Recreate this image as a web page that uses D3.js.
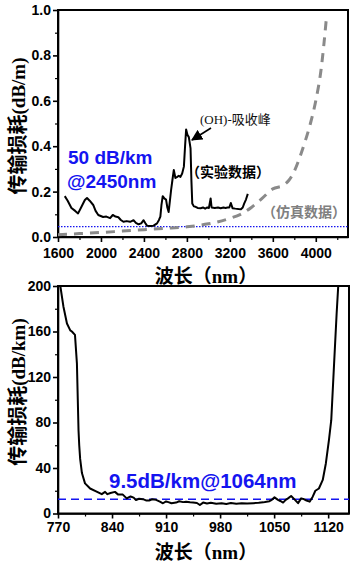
<!DOCTYPE html>
<html>
<head>
<meta charset="utf-8">
<script src="https://cdn.jsdelivr.net/npm/d3@7"></script>
<style>
  body { margin: 0; background: #fff; }
  svg { display: block; }
  .tick text { font-family: "Liberation Sans", Arial, sans-serif; font-weight: bold; font-size: 14px; fill: #000; }
  .axis path, .axis line { stroke: #000; stroke-width: 1.6px; }
  .minor path { display: none; }
  .minor line { stroke: #000; stroke-width: 1.2px; }
  .cjk { font-family: "Noto Sans CJK SC", sans-serif; font-weight: bold; }
  .lat { font-family: "Liberation Serif", serif; font-weight: bold; }
</style>
</head>
<body>
<div id="chart"></div>
<script>
// top panel: measured loss (dB/m) and simulated loss
var expWave = [1663,1690,1725,1760,1787,1815,1850,1870,1895,1928,1950,1975,2020,2050,2085,2110,2135,2162,2185,2209,2240,2272,2303,2325,2350,2375,2397,2412,2428,2460,2490,2522,2540,2553,2563,2575,2590,2606,2618,2630,2642,2653,2665,2678,2693,2710,2725,2740,2756,2772,2783,2793,2805,2818,2834,2842,2850,2865,2881,2900,2928,2950,2970,2990,3005,3021,3030,3060,3090,3115,3140,3160,3178,3195,3209,3225,3250,3280,3303,3320,3334,3350,3367];
var expLoss = [0.18,0.16,0.128,0.115,0.104,0.13,0.163,0.172,0.16,0.141,0.115,0.097,0.088,0.09,0.083,0.097,0.09,0.087,0.075,0.067,0.07,0.067,0.074,0.062,0.056,0.06,0.074,0.062,0.05,0.048,0.05,0.06,0.075,0.09,0.14,0.18,0.17,0.165,0.13,0.11,0.16,0.207,0.25,0.295,0.26,0.265,0.27,0.265,0.28,0.31,0.4,0.474,0.45,0.44,0.39,0.25,0.148,0.135,0.133,0.128,0.127,0.13,0.125,0.13,0.128,0.17,0.13,0.128,0.13,0.127,0.13,0.128,0.13,0.13,0.15,0.127,0.125,0.123,0.122,0.13,0.148,0.165,0.19];

var simWave = [1600,1800,2000,2200,2400,2600,2800,3000,3200,3300,3400,3500,3600,3700,3750,3800,3850,3900,3950,4000,4050,4100];
var simLoss = [0.01,0.015,0.02,0.026,0.032,0.038,0.045,0.058,0.082,0.1,0.13,0.17,0.212,0.228,0.25,0.29,0.35,0.42,0.5,0.6,0.74,0.97];

var topRef = 0.046;           // 50 dB/km
var topXTicks = [1600,2000,2400,2800,3200,3600,4000];
var topXMinor = [1800,2200,2600,3000,3400,3800,4200];
var topYTicks = [0,0.2,0.4,0.6,0.8,1.0];
var topYMinor = [0.1,0.3,0.5,0.7,0.9];

// bottom panel: loss (dB/km) 770-1145 nm
var botWave = [773,777,781.6,785.9,788,792,794.5,796.6,797.5,798.7,801,805,811.6,820,826.7,831,834,838,843.8,848,854,859,864,868,871,875,880,884,888,892,897,902,906,910,913,917,923,927,932,936,941,945,950,953.8,958,963,968,975,982,988,994,1001,1008,1015,1023,1030,1036,1040,1044,1047,1050.5,1055,1058,1061.6,1065,1068,1072,1077,1081,1085,1089,1092,1096,1100,1103.4,1108,1113,1117,1121,1124,1127.7,1131,1133];
var botLoss = [200,182,167,161,160,157,132,73,60,48,35.6,26.5,22,19.3,17,19,17,18,19,16.6,16.6,13.3,15,14,11.9,13,12.6,11.5,11.4,12.5,12,10.5,9,10.6,10,9,9.6,10.8,10,10.4,9.8,9.6,9.2,7.5,9.6,8.8,9.4,8.6,9,8.4,9.2,8.6,9,8.8,9.1,9.4,9.8,10.4,10.8,12,14.2,12,11,9.6,12,13.3,15.4,12,9.1,13.3,12.5,11.4,10.4,14.8,20,22,29.5,44,64.6,82,132,176,199.5];

var botRef = 12.5;
var botXTicks = [770,840,910,980,1050,1120];
var botXMinor = [805,875,945,1015,1085];
var botYTicks = [0,40,80,120,160,200];
var botYMinor = [20,60,100,140,180];

var svg = d3.select("#chart").append("svg")
    .attr("width", 354)
    .attr("height", 564);

svg.append("defs").append("marker")
    .attr("id", "arr")
    .attr("viewBox", "0 0 10 10")
    .attr("refX", 9).attr("refY", 5)
    .attr("markerWidth", 7).attr("markerHeight", 7)
    .attr("orient", "auto")
    .append("path")
    .attr("d", "M0,0 L10,5 L0,10 z")
    .attr("fill", "#000");

function panel(o) {
    var x = d3.scaleLinear().domain(o.xDom).range([o.left, o.right]);
    var y = d3.scaleLinear().domain(o.yDom).range([o.bottom, o.top]);

    // frame
    svg.append("rect")
        .attr("x", o.left).attr("y", o.top)
        .attr("width", o.right - o.left).attr("height", o.bottom - o.top)
        .attr("fill", "none").attr("stroke", "#000").attr("stroke-width", 2);

    svg.append("g").attr("class", "axis")
        .attr("transform", "translate(0," + o.bottom + ")")
        .call(d3.axisBottom(x).tickValues(o.xTicks).tickFormat(o.xFmt).tickSize(5).tickSizeOuter(0).tickPadding(o.xPad));
    svg.append("g").attr("class", "minor")
        .attr("transform", "translate(0," + o.bottom + ")")
        .call(d3.axisBottom(x).tickValues(o.xMinor).tickFormat("").tickSize(3));

    svg.append("g").attr("class", "axis")
        .attr("transform", "translate(" + o.left + ",0)")
        .call(d3.axisLeft(y).tickValues(o.yTicks).tickFormat(o.yFmt).tickSize(5).tickSizeOuter(0).tickPadding(2));
    svg.append("g").attr("class", "minor")
        .attr("transform", "translate(" + o.left + ",0)")
        .call(d3.axisLeft(y).tickValues(o.yMinor).tickFormat("").tickSize(3));

    return {x: x, y: y};
}

// ---- top chart
var t = panel({
    xDom: [1600, 4300], yDom: [0, 1],
    left: 58, right: 348, top: 10, bottom: 237,
    xTicks: topXTicks, xMinor: topXMinor, yTicks: topYTicks, yMinor: topYMinor,
    xFmt: d3.format("d"), yFmt: d3.format(".1f"), xPad: 6
});

svg.append("line")
    .attr("x1", t.x(1600)).attr("x2", t.x(4300))
    .attr("y1", t.y(topRef)).attr("y2", t.y(topRef))
    .attr("stroke", "#1414f0").attr("stroke-width", 1.2)
    .attr("stroke-dasharray", "1.5,1.5");

var simLine = d3.line().curve(d3.curveMonotoneX)
    .x(function(d, i) { return t.x(simWave[i]); })
    .y(function(d) { return t.y(d); });
svg.append("path")
    .attr("d", simLine(simLoss))
    .attr("fill", "none").attr("stroke", "#8a8a8a")
    .attr("stroke-width", 3).attr("stroke-dasharray", "9,7");

var expLine = d3.line()
    .x(function(d, i) { return t.x(expWave[i]); })
    .y(function(d) { return t.y(d); });
svg.append("path")
    .attr("d", expLine(expLoss))
    .attr("fill", "none").attr("stroke", "#000")
    .attr("stroke-width", 2).attr("stroke-linejoin", "round");

svg.append("text").attr("x", 68).attr("y", 164)
    .attr("font-family", "Liberation Sans, Arial, sans-serif").attr("font-weight", "bold")
    .attr("font-size", 19).attr("fill", "#1414f0").text("50 dB/km");
svg.append("text").attr("x", 67).attr("y", 188)
    .attr("font-family", "Liberation Sans, Arial, sans-serif").attr("font-weight", "bold")
    .attr("font-size", 19).attr("fill", "#1414f0").text("@2450nm");

svg.append("text").attr("x", 200).attr("y", 124)
    .attr("font-family", "Liberation Serif, Noto Sans CJK SC, serif")
    .attr("font-size", 13).attr("fill", "#111").text("(OH)-吸收峰");
svg.append("line")
    .attr("x1", 211).attr("y1", 128).attr("x2", 192).attr("y2", 140)
    .attr("stroke", "#000").attr("stroke-width", 1.6)
    .attr("marker-end", "url(#arr)");

svg.append("text").attr("class", "cjk").attr("x", 186).attr("y", 177)
    .attr("font-size", 14).attr("fill", "#000").text("（实验数据）");
svg.append("text").attr("class", "cjk").attr("x", 262).attr("y", 217)
    .attr("font-size", 14).attr("fill", "#808080").text("（仿真数据）");

function yLabel(cx, cy, unit) {
    var tx = svg.append("text")
        .attr("transform", "translate(" + cx + "," + cy + ") rotate(-90)")
        .attr("text-anchor", "middle");
    tx.append("tspan").attr("class", "cjk").attr("font-size", 20).text("传输损耗");
    tx.append("tspan").attr("class", "lat").attr("font-size", 19).text(unit);
}
function xLabel(cx, cy) {
    var tx = svg.append("text")
        .attr("x", cx).attr("y", cy).attr("text-anchor", "middle");
    tx.append("tspan").attr("class", "cjk").attr("font-size", 19).text("波长（");
    tx.append("tspan").attr("class", "lat").attr("font-size", 19).text("nm");
    tx.append("tspan").attr("class", "cjk").attr("font-size", 19).text("）");
}

yLabel(25, 126, "(dB/m)");
xLabel(206, 283);

// ---- bottom chart
var b = panel({
    xDom: [770, 1147], yDom: [0, 200],
    left: 58, right: 349, top: 286, bottom: 513.5,
    xTicks: botXTicks, xMinor: botXMinor, yTicks: botYTicks, yMinor: botYMinor,
    xFmt: d3.format("d"), yFmt: d3.format("d"), xPad: 4
});

svg.append("line")
    .attr("x1", b.x(770)).attr("x2", b.x(1147))
    .attr("y1", b.y(botRef)).attr("y2", b.y(botRef))
    .attr("stroke", "#1414f0").attr("stroke-width", 1.6)
    .attr("stroke-dasharray", "8,5");

var botLine = d3.line()
    .x(function(d, i) { return b.x(botWave[i]); })
    .y(function(d) { return b.y(d); });
svg.append("path")
    .attr("d", botLine(botLoss))
    .attr("fill", "none").attr("stroke", "#000")
    .attr("stroke-width", 2).attr("stroke-linejoin", "round");

svg.append("text").attr("x", 109).attr("y", 488)
    .attr("font-family", "Liberation Sans, Arial, sans-serif").attr("font-weight", "bold")
    .attr("font-size", 20.5).attr("fill", "#1414f0").text("9.5dB/km@1064nm");

yLabel(25, 392, "(dB/km)");
xLabel(206, 559);
</script>
</body>
</html>
